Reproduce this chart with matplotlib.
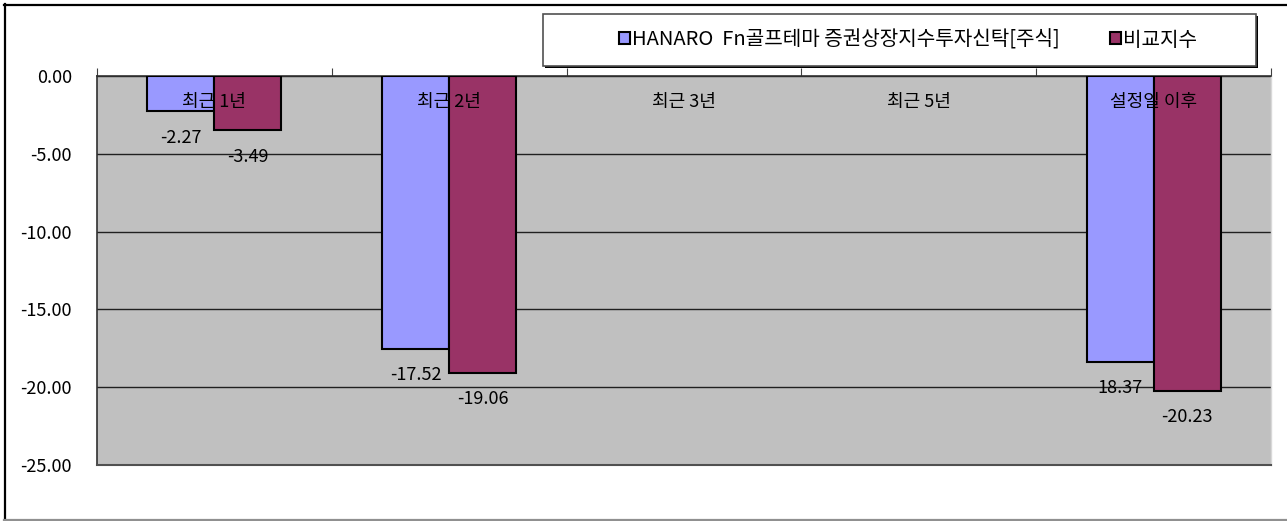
import numpy as np
import matplotlib
matplotlib.use("Agg")
import matplotlib.pyplot as plt
from matplotlib.patches import Rectangle
from matplotlib.lines import Line2D

plt.rcParams['font.family'] = ['Noto Sans CJK KR', 'DejaVu Sans']

categories = ['최근 1년', '최근 2년', '최근 3년', '최근 5년', '설정일 이후']
series_names = ['HANARO  Fn골프테마 증권상장지수투자신탁[주식]', '비교지수']
fund_values = [-2.27, -17.52, np.nan, np.nan, -18.37]
bench_values = [-3.49, -19.06, np.nan, np.nan, -20.23]
fund_labels = ['-2.27', '-17.52', '', '', '18.37']
bench_labels = ['-3.49', '-19.06', '', '', '-20.23']
yticks = [0, -5, -10, -15, -20, -25]

W, H = 1287, 521
fig = plt.figure(figsize=(W / 100, H / 100), dpi=100)
fig.patch.set_facecolor('white')

def px(xp, yp):
    return xp / W, 1 - yp / H

# outer chart border
for (x0, y0, x1, y1, c) in [(4, 4.5, 1286, 4.5, 'black'), (4.5, 4, 4.5, 520, 'black'),
                            (4, 519.5, 1286, 519.5, '#909090')]:
    a, b = px(x0, y0)
    c2, d = px(x1, y1)
    fig.add_artist(Line2D([a, c2], [b, d], transform=fig.transFigure, color=c, linewidth=1.6))

ax = fig.add_axes([97 / W, 1 - 465 / H, (1271 - 97) / W, (465 - 76) / H])
ax.set_facecolor('#C0C0C0')

x = np.arange(len(categories))
bw = 0.285
ax.bar(x - bw / 2, fund_values, width=bw, color='#9999FF', edgecolor='black',
       linewidth=1.5, zorder=3, label=series_names[0])
ax.bar(x + bw / 2, bench_values, width=bw, color='#993366', edgecolor='black',
       linewidth=1.5, zorder=5, label=series_names[1])

fs = 13
for i in range(len(categories)):
    if not np.isnan(fund_values[i]):
        ax.annotate(fund_labels[i], (x[i] - bw / 2, fund_values[i]),
                    xytext=(0, -19), textcoords='offset points',
                    ha='center', va='center', fontsize=fs, color='black', zorder=4)
    if not np.isnan(bench_values[i]):
        ax.annotate(bench_labels[i], (x[i] + bw / 2, bench_values[i]),
                    xytext=(0, -19), textcoords='offset points',
                    ha='center', va='center', fontsize=fs, color='black', zorder=6)
    ax.annotate(categories[i], (x[i], 0), xytext=(0, -19), textcoords='offset points',
                ha='center', va='center', fontsize=fs, color='black', zorder=7)

ax.set_xlim(-0.5, len(categories) - 0.5)
ax.set_ylim(-25, 0)
ax.set_yticks(yticks)
ax.set_yticklabels([f'{v:.2f}' for v in yticks], fontsize=fs)
ax.tick_params(axis='y', length=0, pad=18)
ax.yaxis.grid(True, color='#202020', linewidth=1.0, zorder=1)
ax.set_axisbelow(True)

ax.xaxis.tick_top()
ax.set_xticks(np.arange(-0.5, len(categories) + 0.5, 1))
ax.set_xticklabels([])
ax.tick_params(axis='x', direction='out', length=6, color='#404040')

for s in ['left', 'top']:
    ax.spines[s].set_color('#303030')
    ax.spines[s].set_linewidth(1.2)
ax.spines['bottom'].set_color('#505050')
ax.spines['bottom'].set_linewidth(1.5)
ax.spines['right'].set_color('#D8D8D8')
ax.spines['right'].set_linewidth(1.0)

# legend frame (with thin shadow) drawn at the reference position
fig.add_artist(Rectangle(px(545, 68), 713 / W, 52 / H, transform=fig.transFigure,
                         facecolor='black', edgecolor='none', zorder=8))
fig.add_artist(Rectangle(px(543, 66), 713 / W, 52 / H, transform=fig.transFigure,
                         facecolor='white', edgecolor='#505050', linewidth=1.2, zorder=9))
leg = fig.legend(loc='center', bbox_to_anchor=px(908, 40), ncol=2,
                 fontsize=14.5, frameon=False, handlelength=0.55,
                 handleheight=0.55, handletextpad=0.1, columnspacing=2.5,
                 borderpad=0.5, borderaxespad=0)
leg.set_zorder(10)

fig.savefig('out.png', dpi=100)
